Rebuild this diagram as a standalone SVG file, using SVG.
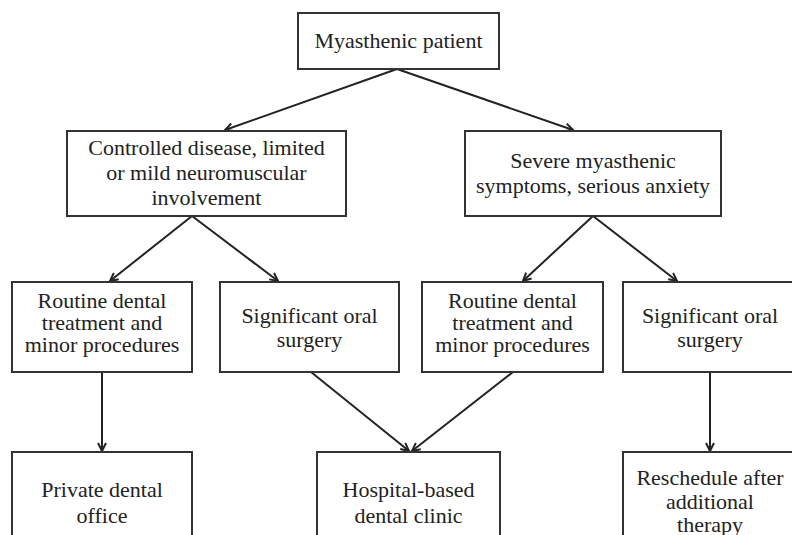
<svg xmlns="http://www.w3.org/2000/svg" width="792" height="535" viewBox="0 0 792 535">
<defs>
<style>
.box{fill:#fff;stroke:#333;stroke-width:2}
.t{font-family:"Liberation Serif","Times New Roman",serif;font-size:22px;fill:#222;text-anchor:middle}
.c{stroke:#222;stroke-width:2;fill:none}
</style>
<marker id="arr" viewBox="0 0 10 10" refX="9" refY="5" markerWidth="10" markerHeight="10" markerUnits="userSpaceOnUse" orient="auto">
<path d="M1,1 L9,5 L1,9" fill="none" stroke="#222" stroke-width="2"/>
</marker>
</defs>
<rect width="792" height="535" fill="#fff"/>
<g id="connectors">
<line class="c" x1="397" y1="69" x2="225" y2="130" marker-end="url(#arr)"/>
<line class="c" x1="397" y1="69" x2="573" y2="130" marker-end="url(#arr)"/>
<line class="c" x1="192" y1="216" x2="110" y2="281" marker-end="url(#arr)"/>
<line class="c" x1="192" y1="216" x2="278" y2="281" marker-end="url(#arr)"/>
<line class="c" x1="593" y1="216" x2="523" y2="281" marker-end="url(#arr)"/>
<line class="c" x1="593" y1="216" x2="677" y2="281" marker-end="url(#arr)"/>
<line class="c" x1="102" y1="372" x2="102" y2="451" marker-end="url(#arr)"/>
<line class="c" x1="311" y1="372" x2="409" y2="451" marker-end="url(#arr)"/>
<line class="c" x1="513" y1="372" x2="412" y2="451" marker-end="url(#arr)"/>
<line class="c" x1="710" y1="372" x2="710" y2="451" marker-end="url(#arr)"/>
</g>
<g id="n-top">
<rect class="box" x="298" y="13" width="201" height="56"/>
<text class="t" x="398.5" y="48">Myasthenic patient</text>
</g>
<g id="n-controlled">
<rect class="box" x="67" y="131" width="279" height="85"/>
<text class="t" x="206.5" y="155">Controlled disease, limited</text>
<text class="t" x="206.5" y="180">or mild neuromuscular</text>
<text class="t" x="206.5" y="205">involvement</text>
</g>
<g id="n-severe">
<rect class="box" x="465" y="131" width="256" height="85"/>
<text class="t" x="593" y="168">Severe myasthenic</text>
<text class="t" x="593" y="193">symptoms, serious anxiety</text>
</g>
<g id="n-routine1">
<rect class="box" x="12" y="282" width="180" height="90"/>
<text class="t" x="102" y="308">Routine dental</text>
<text class="t" x="102" y="330">treatment and</text>
<text class="t" x="102" y="352">minor procedures</text>
</g>
<g id="n-surgery1">
<rect class="box" x="220" y="282" width="179" height="90"/>
<text class="t" x="309.5" y="323">Significant oral</text>
<text class="t" x="309.5" y="347">surgery</text>
</g>
<g id="n-routine2">
<rect class="box" x="422" y="282" width="181" height="90"/>
<text class="t" x="512.5" y="308">Routine dental</text>
<text class="t" x="512.5" y="330">treatment and</text>
<text class="t" x="512.5" y="352">minor procedures</text>
</g>
<g id="n-surgery2">
<rect class="box" x="623" y="282" width="180" height="90"/>
<text class="t" x="710" y="323">Significant oral</text>
<text class="t" x="710" y="347">surgery</text>
</g>
<g id="n-private">
<rect class="box" x="12" y="452" width="180" height="100"/>
<text class="t" x="102" y="497">Private dental</text>
<text class="t" x="102" y="523">office</text>
</g>
<g id="n-hospital">
<rect class="box" x="317" y="452" width="183" height="100"/>
<text class="t" x="408.5" y="497">Hospital-based</text>
<text class="t" x="408.5" y="523">dental clinic</text>
</g>
<g id="n-reschedule">
<rect class="box" x="623" y="452" width="180" height="100"/>
<text class="t" x="710" y="485">Reschedule after</text>
<text class="t" x="710" y="509">additional</text>
<text class="t" x="710" y="532">therapy</text>
</g>
</svg>
